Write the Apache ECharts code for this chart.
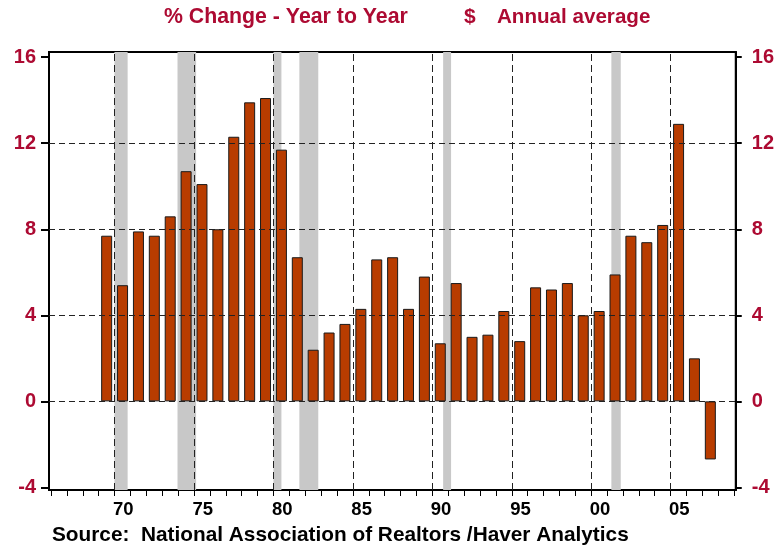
<!DOCTYPE html>
<html>
<head>
<meta charset="utf-8">
<script src="https://cdn.jsdelivr.net/npm/echarts@6/dist/echarts.min.js"></script>
<style>
  html, body { margin: 0; padding: 0; background: #fff; }
  #chart { width: 777px; height: 548px; }
</style>
</head>
<body>
<div id="chart"></div>
<script>
// annual average home price, % change year to year
const years = [1969, 1970, 1971, 1972, 1973, 1974, 1975, 1976, 1977, 1978,
  1979, 1980, 1981, 1982, 1983, 1984, 1985, 1986, 1987, 1988,
  1989, 1990, 1991, 1992, 1993, 1994, 1995, 1996, 1997, 1998,
  1999, 2000, 2001, 2002, 2003, 2004, 2005, 2006, 2007];
const pctChange = [7.7, 5.4, 7.9, 7.7, 8.6, 10.7, 10.1, 8.0, 12.3, 13.9,
  14.1, 11.7, 6.7, 2.4, 3.2, 3.6, 4.3, 6.6, 6.7, 4.3,
  5.8, 2.7, 5.5, 3.0, 3.1, 4.2, 2.8, 5.3, 5.2, 5.5,
  4.0, 4.2, 5.9, 7.7, 7.4, 8.2, 12.9, 2.0, -2.7];

// recession periods (fractional years)
const recessions = [[1969.99, 1970.82], [1973.96, 1975.13], [1980.0, 1980.5],
  [1981.63, 1982.82], [1990.68, 1991.18], [2001.27, 2001.86]];

const yTicks = [-4, 0, 4, 8, 12, 16];
const yGrid = [0, 4, 8, 12];
const xGrid = [1970, 1975, 1980, 1985, 1990, 1995, 2000, 2005];
const xTicks = [];
for (let y = 1966; y <= 2009; y++) xTicks.push(y);

const FONT = '"Liberation Sans", Arial, sans-serif';
const RED = '#ad0a32';

const chart = echarts.init(document.getElementById('chart'));

const yAxisBase = {
  type: 'value',
  min: -4.12,
  max: 16.24,
  splitLine: { show: false },
  axisLine: { show: true, lineStyle: { color: '#000', width: 2 } },
  axisTick: { show: true, length: 8, customValues: yTicks, lineStyle: { color: '#000', width: 2 } },
  axisLabel: {
    customValues: yTicks,
    color: RED, fontFamily: FONT, fontWeight: 'bold', fontSize: 20,
  },
};

chart.setOption({
  backgroundColor: '#fff',
  animation: false,
  grid: {
    left: 49, right: 40, top: 52, bottom: 58,
    show: true, borderColor: '#000', borderWidth: 2,
  },
  xAxis: {
    type: 'value',
    min: 1965.87,
    max: 2009.1,
    splitLine: { show: false },
    axisLine: { show: true, onZero: false, lineStyle: { color: '#000', width: 2 } },
    axisTick: { show: true, length: 6, customValues: xTicks, lineStyle: { color: '#000', width: 1 } },
    axisLabel: {
      customValues: xGrid.map(v => v + 0.55),
      margin: 10,
      color: '#000', fontFamily: FONT, fontWeight: 'bold', fontSize: 18.5,
      formatter: v => String(Math.floor(v) % 100).padStart(2, '0'),
    },
  },
  yAxis: [
    { ...yAxisBase, position: 'left', axisLabel: { ...yAxisBase.axisLabel, margin: 13 } },
    { ...yAxisBase, position: 'right', axisTick: { ...yAxisBase.axisTick, length: 6 },
      axisLabel: { ...yAxisBase.axisLabel, margin: 16 } },
  ],
  graphic: [
    { type: 'text', left: 164, top: 7,
      style: { text: '% Change - Year to Year', fill: RED, font: 'bold 21.3px ' + FONT } },
    { type: 'text', left: 464, top: 7,
      style: { text: '$', fill: RED, font: 'bold 21px ' + FONT } },
    { type: 'text', left: 497, top: 7,
      style: { text: 'Annual average', fill: RED, font: 'bold 20.6px ' + FONT } },
    { type: 'text', left: 52, top: 525,
      style: { text: 'Source:  National Association of Realtors /Haver Analytics', fill: '#000', font: 'bold 20.8px ' + FONT } },
  ],
  series: [
    {
      name: 'recessions',
      type: 'line',
      data: [],
      z: 1,
      silent: true,
      markArea: {
        silent: true,
        itemStyle: { color: '#c8c8c8' },
        data: recessions.map(([a, b]) => [{ xAxis: a }, { xAxis: b }]),
      },
    },
    {
      name: 'grid',
      type: 'line',
      data: [],
      z: 2,
      silent: true,
      markLine: {
        silent: true,
        symbol: 'none',
        label: { show: false },
        animation: false,
        data: [
          ...xGrid.map(v => ({ xAxis: v, lineStyle: { color: '#222', width: 1, type: [7, 4] } })),
          ...yGrid.map(v => ({ yAxis: v, lineStyle: { color: '#222', width: 1, type: [6, 4] } })),
        ],
      },
    },
    {
      name: '% Change',
      type: 'bar',
      z: 3,
      barWidth: 11,
      itemStyle: { color: '#b83c00', borderColor: '#1a1a1a', borderWidth: 1 },
      data: years.map((y, i) => [y + 0.5, pctChange[i]]),
    },
  ],
});
</script>
</body>
</html>
